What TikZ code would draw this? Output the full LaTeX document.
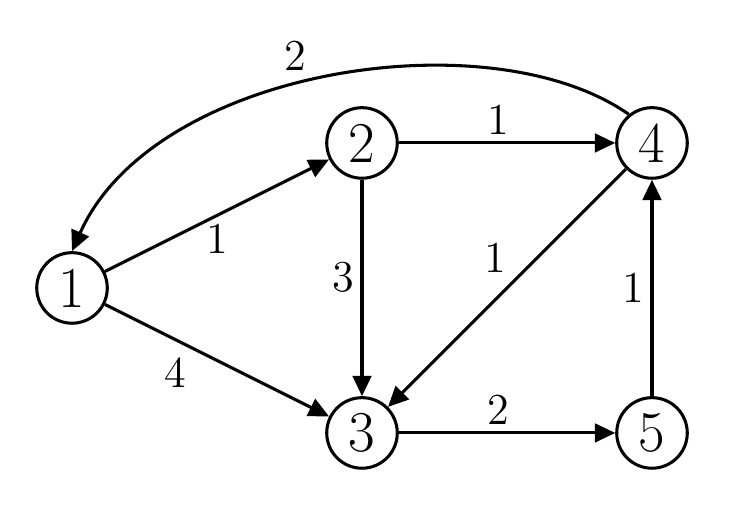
\documentclass[tikz,border=0pt]{standalone}
\usepackage{tikz}
\usetikzlibrary{arrows.meta, positioning}

\begin{document}
\begin{tikzpicture}[
        node distance=1.5cm and 3cm, on grid,
        vertex/.style={circle, draw, line width=0.9pt, minimum size=0.73cm, inner sep=0pt, font=\fontsize{17}{20}\selectfont},
        weight/.style={font=\fontsize{13}{15}\selectfont, inner sep=2pt},
        line/.style={draw, -{Triangle[length=6pt, width=5.5pt]}, line width=0.9pt}
    ]
        \useasboundingbox (-0.745,-2.359) rectangle (6.869,2.979);
        \node [vertex] (v1) {1};
        \node [vertex, above right=of v1] (v2) {2};
        \node [vertex, below right=of v1] (v3) {3};
        \node [vertex, right=of v2] (v4) {4};
        \node [vertex, right=of v3] (v5) {5};

        \path [line] (v1) -- node[weight, below] {1} (v2);
        \path [line] (v1) -- node[weight, below left, pos=0.4] {4} (v3);
        \path [line] (v2) -- node[weight, left, pos=0.45] {3} (v3);
        \path [line] (v2) -- node[weight, above, pos=0.46] {1} (v4);
        \path [line] (v4) -- node[weight, above left, pos=0.47] {1} (v3);
        \path [line] (v3) -- node[weight, above, pos=0.46] {2} (v5);
        \path [line] (v5) -- node[weight, left] {1} (v4);
        \path [line] (v4.129) to[out=145, in=66, out distance=1.76cm, in distance=2.07cm] node[weight, above=2pt, pos=0.55] {2} (v1.north);
    \end{tikzpicture}
\end{document}
